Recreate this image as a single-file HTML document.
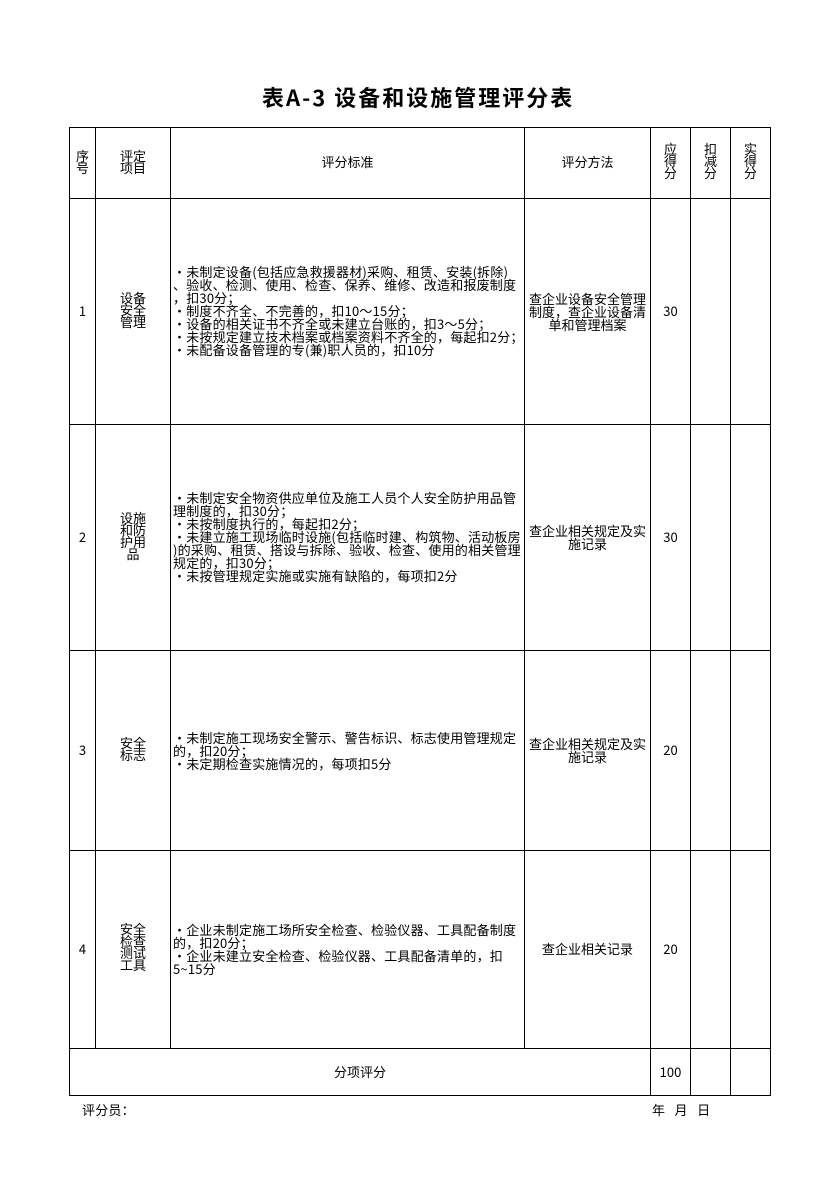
<!DOCTYPE html>
<html><head><meta charset="utf-8"><style>
body{margin:0;width:838px;height:1186px;background:#fff;position:relative;font-family:"Noto Sans CJK SC","Liberation Sans",sans-serif;color:#000;overflow:hidden}
.h{position:absolute;height:1px;background:#000}
.v{position:absolute;width:1px;background:#000}
.t{position:absolute;font-size:13px;line-height:13px;white-space:nowrap;letter-spacing:0.2px}
.c{position:absolute;font-size:13px;line-height:12px;text-align:center;white-space:nowrap}
</style></head><body>
<div class="t" style="left:262px;top:84px;font-size:22px;line-height:26px;font-weight:bold;letter-spacing:2px">表A-3 设备和设施管理评分表</div>
<div class="h" style="left:69px;top:127px;width:702px"></div>
<div class="h" style="left:69px;top:198px;width:702px"></div>
<div class="h" style="left:69px;top:424px;width:702px"></div>
<div class="h" style="left:69px;top:650px;width:702px"></div>
<div class="h" style="left:69px;top:850px;width:702px"></div>
<div class="h" style="left:69px;top:1048px;width:702px"></div>
<div class="h" style="left:69px;top:1095px;width:702px"></div>
<div class="v" style="left:69px;top:127px;height:969px"></div>
<div class="v" style="left:95px;top:127px;height:921px"></div>
<div class="v" style="left:170px;top:127px;height:921px"></div>
<div class="v" style="left:524px;top:127px;height:921px"></div>
<div class="v" style="left:650px;top:127px;height:969px"></div>
<div class="v" style="left:690px;top:127px;height:969px"></div>
<div class="v" style="left:730px;top:127px;height:969px"></div>
<div class="v" style="left:770px;top:127px;height:969px"></div>
<div class="c" style="left:70px;top:150px;width:25px">序<br>号</div>
<div class="c" style="left:96px;top:150px;width:74px">评定<br>项目</div>
<div class="c" style="left:171px;top:156px;width:353px">评分标准</div>
<div class="c" style="left:525px;top:156px;width:125px">评分方法</div>
<div class="c" style="left:651px;top:143px;width:39px">应<br>得<br>分</div>
<div class="c" style="left:691px;top:143px;width:39px">扣<br>减<br>分</div>
<div class="c" style="left:731px;top:143px;width:39px">实<br>得<br>分</div>
<div class="c" style="left:70px;top:305px;width:25px">1</div>
<div class="c" style="left:96px;top:292px;width:74px">设备<br>安全<br>管理</div>
<div class="t" style="left:173px;top:265px">·未制定设备(包括应急救援器材)采购、租赁、安装(拆除)<br>、验收、检测、使用、检查、保养、维修、改造和报废制度<br>，扣30分；<br>·制度不齐全、不完善的，扣10～15分；<br>·设备的相关证书不齐全或未建立台账的，扣3～5分；<br>·未按规定建立技术档案或档案资料不齐全的，每起扣2分；<br>·未配备设备管理的专(兼)职人员的，扣10分</div>
<div class="c" style="left:525px;top:292px;width:125px;line-height:13px">查企业设备安全管理<br>制度，查企业设备清<br>单和管理档案</div>
<div class="c" style="left:651px;top:305px;width:39px">30</div>
<div class="c" style="left:70px;top:531px;width:25px">2</div>
<div class="c" style="left:96px;top:512px;width:74px">设施<br>和防<br>护用<br>品</div>
<div class="t" style="left:173px;top:491px">·未制定安全物资供应单位及施工人员个人安全防护用品管<br>理制度的，扣30分；<br>·未按制度执行的，每起扣2分；<br>·未建立施工现场临时设施(包括临时建、构筑物、活动板房<br>)的采购、租赁、搭设与拆除、验收、检查、使用的相关管理<br>规定的，扣30分；<br>·未按管理规定实施或实施有缺陷的，每项扣2分</div>
<div class="c" style="left:525px;top:524px;width:125px;line-height:13px">查企业相关规定及实<br>施记录</div>
<div class="c" style="left:651px;top:531px;width:39px">30</div>
<div class="c" style="left:70px;top:744px;width:25px">3</div>
<div class="c" style="left:96px;top:737px;width:74px">安全<br>标志</div>
<div class="t" style="left:173px;top:731px">·未制定施工现场安全警示、警告标识、标志使用管理规定<br>的，扣20分；<br>·未定期检查实施情况的，每项扣5分</div>
<div class="c" style="left:525px;top:737px;width:125px;line-height:13px">查企业相关规定及实<br>施记录</div>
<div class="c" style="left:651px;top:744px;width:39px">20</div>
<div class="c" style="left:70px;top:943px;width:25px">4</div>
<div class="c" style="left:96px;top:923px;width:74px">安全<br>检查<br>测试<br>工具</div>
<div class="t" style="left:173px;top:923px">·企业未制定施工场所安全检查、检验仪器、工具配备制度<br>的，扣20分；<br>·企业未建立安全检查、检验仪器、工具配备清单的，扣<br>5~15分</div>
<div class="c" style="left:525px;top:943px;width:125px">查企业相关记录</div>
<div class="c" style="left:651px;top:943px;width:39px">20</div>
<div class="c" style="left:70px;top:1066px;width:580px">分项评分</div>
<div class="c" style="left:651px;top:1066px;width:39px">100</div>
<div class="t" style="left:82px;top:1103px">评分员：</div>
<div class="t" style="left:652px;top:1103px">年&nbsp;&nbsp;&nbsp;月&nbsp;&nbsp;&nbsp;日</div>
</body></html>
